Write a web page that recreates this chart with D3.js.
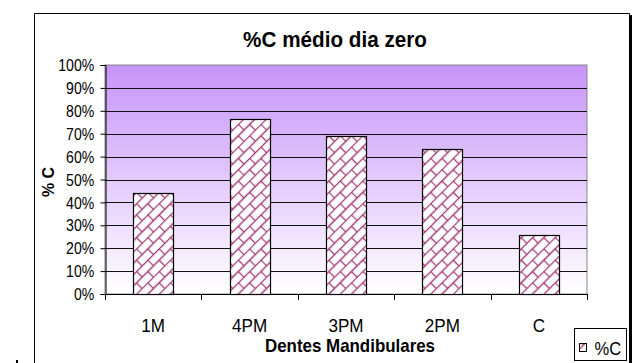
<!DOCTYPE html>
<html>
<head>
<meta charset="utf-8">
<script src="https://cdn.jsdelivr.net/npm/d3@7"></script>
<style>
  html, body { margin: 0; padding: 0; background: #fff; }
  svg { display: block; }
  text { font-family: "Liberation Sans", Arial, sans-serif; fill: #000; }
</style>
</head>
<body>
<div id="chart"></div>
<script>
// ---- data ----
const categories = ["1M", "4PM", "3PM", "2PM", "C"];
const values = [0.44, 0.764, 0.69, 0.633, 0.258];
const yTicks = [0, 0.1, 0.2, 0.3, 0.4, 0.5, 0.6, 0.7, 0.8, 0.9, 1.0];
const seriesName = "%C";
const titleText = "%C médio dia zero";
const xTitle = "Dentes Mandibulares";
const yTitle = "% C";

// ---- layout ----
const W = 635, H = 363;
const plot = { left: 105, right: 587, top: 65, bottom: 294 };

const svg = d3.select("#chart").append("svg")
  .attr("width", W).attr("height", H);

const defs = svg.append("defs");
const grad = defs.append("linearGradient").attr("id", "bg")
  .attr("x1", 0).attr("y1", 0).attr("x2", 0).attr("y2", 1);
grad.append("stop").attr("offset", "0%").attr("stop-color", "#c794f9");
grad.append("stop").attr("offset", "100%").attr("stop-color", "#ffffff");

const pat = defs.append("pattern").attr("id", "brick")
  .attr("patternUnits", "userSpaceOnUse")
  .attr("width", 16).attr("height", 16)
  .attr("patternTransform", "rotate(-45)");
pat.append("rect").attr("width", 16).attr("height", 16).attr("fill", "#fff");
pat.append("path")
  .attr("d", "M0,0.5H16M0,8.5H16M0.5,0V8.5M8.5,8.5V16")
  .attr("stroke", "#a23c78").attr("stroke-width", 1.3).attr("fill", "none");

svg.append("rect").attr("width", W).attr("height", H).attr("fill", "#fff");

// outer chart border
svg.append("path")
  .attr("d", `M34.5,${H + 2}V13.5H629.5V${H + 2}`)
  .attr("fill", "none").attr("stroke", "#000").attr("stroke-width", 1);
svg.append("line").attr("x1", 631).attr("x2", 631).attr("y1", 15).attr("y2", H)
  .attr("stroke", "#000").attr("stroke-width", 2);

// scales
const x = d3.scaleBand().domain(categories)
  .range([plot.left, plot.right]).paddingInner(0.585).paddingOuter(0.2925);
const y = d3.scaleLinear().domain([0, 1]).range([plot.bottom, plot.top]);

// plot background
svg.append("rect")
  .attr("x", plot.left).attr("y", plot.top)
  .attr("width", plot.right - plot.left).attr("height", plot.bottom - plot.top)
  .attr("fill", "url(#bg)").attr("stroke", "#888").attr("stroke-width", 1);

// gridlines
svg.append("g").selectAll("line").data(yTicks.filter(d => d > 0 && d < 1))
  .join("line")
  .attr("x1", plot.left).attr("x2", plot.right)
  .attr("y1", d => Math.round(y(d)) + 0.5).attr("y2", d => Math.round(y(d)) + 0.5)
  .attr("stroke", "#111").attr("stroke-width", 1);

// bars
svg.append("g").selectAll("rect").data(values)
  .join("rect")
  .attr("x", (d, i) => Math.round(x(categories[i])) + 0.5)
  .attr("width", x.bandwidth())
  .attr("y", d => Math.round(y(d)) + 0.5)
  .attr("height", d => plot.bottom - Math.round(y(d)))
  .attr("fill", "url(#brick)")
  .attr("stroke", "#000").attr("stroke-width", 1.2);

// y axis
const yAxis = d3.axisLeft(y).tickValues(yTicks)
  .tickFormat(d3.format(".0%")).tickSize(5).tickPadding(6);
const gy = svg.append("g").attr("transform", `translate(${plot.left + 0.5},0)`).call(yAxis);
gy.select(".domain").attr("stroke", "#000");
gy.selectAll(".tick line").attr("stroke", "#000");
gy.selectAll(".tick text")
  .style("font-size", "16px")
  .attr("font-family", "'Liberation Sans', Arial, sans-serif")
  .attr("x", -12.8).attr("dy", "0.35em")
  .attr("transform", "scale(0.88,1)");

// x axis: line + boundary ticks
const gx = svg.append("g");
gx.append("line").attr("x1", plot.left).attr("x2", plot.right + 1)
  .attr("y1", plot.bottom + 0.5).attr("y2", plot.bottom + 0.5).attr("stroke", "#000");
const bounds = d3.range(categories.length + 1).map(i => plot.left + i * (plot.right - plot.left) / categories.length);
gx.selectAll("line.tk").data(bounds).join("line").attr("class", "tk")
  .attr("x1", d => Math.round(d) + 0.5).attr("x2", d => Math.round(d) + 0.5)
  .attr("y1", plot.bottom).attr("y2", plot.bottom + 6).attr("stroke", "#000");
gx.selectAll("text").data(categories).join("text")
  .attr("transform", d => `translate(${x(d) + x.bandwidth() / 2},332) scale(0.9,1)`)
  .attr("text-anchor", "middle").style("font-size", "19px").text(d => d);

// titles
svg.append("text").attr("transform", "translate(335,46.5) scale(0.94,1)").attr("text-anchor", "middle")
  .style("font-size", "22px").style("font-weight", "bold").text(titleText);
svg.append("text").attr("transform", "translate(350,352) scale(0.94,1)").attr("text-anchor", "middle")
  .style("font-size", "18px").style("font-weight", "bold").text(xTitle);
svg.append("text").attr("transform", "translate(54,182) rotate(-90)")
  .attr("text-anchor", "middle")
  .style("font-size", "16px").style("font-weight", "bold").text(yTitle);

// legend
const lg = svg.append("g");
lg.append("rect").attr("x", 574.5).attr("y", 328.5).attr("width", 52).attr("height", 32)
  .attr("fill", "#fff").attr("stroke", "#000");
lg.append("rect").attr("x", 579.5).attr("y", 343.5).attr("width", 7).attr("height", 8)
  .attr("fill", "url(#brick)").attr("stroke", "#000");
lg.append("text").attr("transform", "translate(594.5,354.5) scale(0.92,1)")
  .style("font-size", "18px").text(seriesName);

// small stray mark at bottom-left
svg.append("rect").attr("x", 16).attr("y", 360).attr("width", 2).attr("height", 3).attr("fill", "#000");
</script>
</body>
</html>
